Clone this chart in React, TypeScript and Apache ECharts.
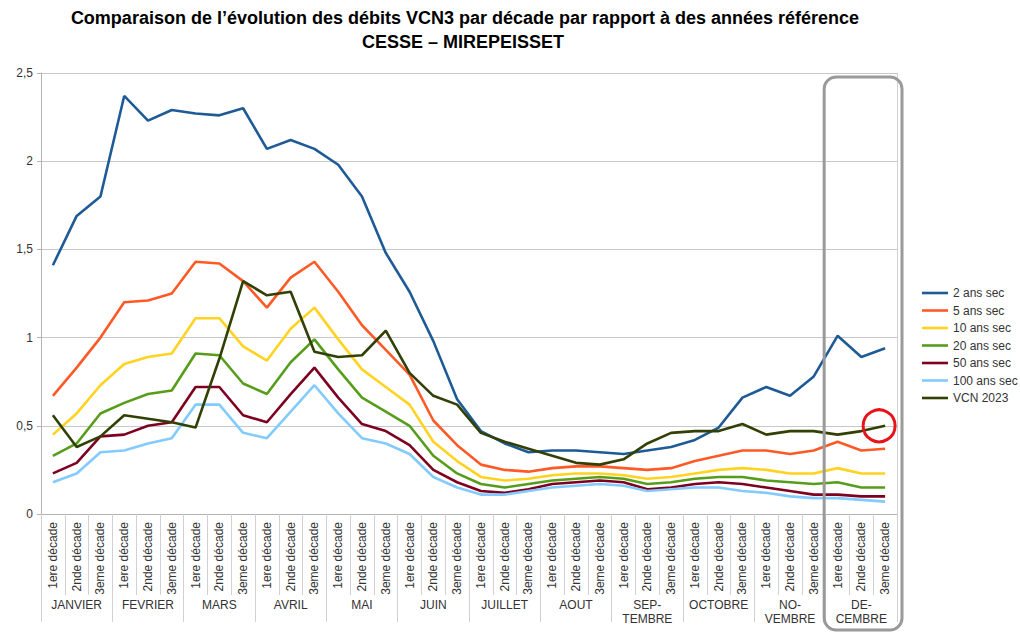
import React, { useEffect, useRef } from "react";
import * as echarts from "echarts";

const months = ["JANVIER", "FEVRIER", "MARS", "AVRIL", "MAI", "JUIN", "JUILLET", "AOUT", "SEP-\nTEMBRE", "OCTOBRE", "NO-\nVEMBRE", "DE-\nCEMBRE"];
const decades = ["1ere décade", "2nde décade", "3eme décade"];
const categories = months.flatMap(() => decades);

const ans2 = [1.41, 1.69, 1.80, 2.37, 2.23, 2.29, 2.27, 2.26, 2.30, 2.07, 2.12, 2.07, 1.98, 1.80, 1.48, 1.26, 0.98, 0.65, 0.47, 0.40, 0.35, 0.36, 0.36, 0.35, 0.34, 0.36, 0.38, 0.42, 0.49, 0.66, 0.72, 0.67, 0.78, 1.01, 0.89, 0.94];
const ans5 = [0.67, 0.83, 1.00, 1.20, 1.21, 1.25, 1.43, 1.42, 1.32, 1.17, 1.34, 1.43, 1.26, 1.07, 0.93, 0.79, 0.53, 0.39, 0.28, 0.25, 0.24, 0.26, 0.27, 0.27, 0.26, 0.25, 0.26, 0.30, 0.33, 0.36, 0.36, 0.34, 0.36, 0.41, 0.36, 0.37];
const ans10 = [0.45, 0.57, 0.73, 0.85, 0.89, 0.91, 1.11, 1.11, 0.95, 0.87, 1.05, 1.17, 0.99, 0.82, 0.72, 0.62, 0.41, 0.30, 0.21, 0.19, 0.20, 0.22, 0.23, 0.23, 0.22, 0.20, 0.21, 0.23, 0.25, 0.26, 0.25, 0.23, 0.23, 0.26, 0.23, 0.23];
const ans20 = [0.33, 0.40, 0.57, 0.63, 0.68, 0.70, 0.91, 0.90, 0.74, 0.68, 0.86, 0.99, 0.82, 0.66, 0.58, 0.50, 0.33, 0.23, 0.17, 0.15, 0.17, 0.19, 0.20, 0.21, 0.20, 0.17, 0.18, 0.20, 0.21, 0.21, 0.19, 0.18, 0.17, 0.18, 0.15, 0.15];
const ans50 = [0.23, 0.29, 0.44, 0.45, 0.50, 0.52, 0.72, 0.72, 0.56, 0.52, 0.68, 0.83, 0.66, 0.51, 0.47, 0.39, 0.25, 0.18, 0.13, 0.12, 0.14, 0.17, 0.18, 0.19, 0.18, 0.14, 0.15, 0.17, 0.18, 0.17, 0.15, 0.13, 0.11, 0.11, 0.10, 0.10];
const ans100 = [0.18, 0.23, 0.35, 0.36, 0.40, 0.43, 0.62, 0.62, 0.46, 0.43, 0.58, 0.73, 0.57, 0.43, 0.40, 0.34, 0.21, 0.15, 0.11, 0.11, 0.13, 0.15, 0.16, 0.17, 0.16, 0.13, 0.14, 0.15, 0.15, 0.13, 0.12, 0.10, 0.09, 0.09, 0.08, 0.07];
const vcn2023 = [0.56, 0.38, 0.44, 0.56, 0.54, 0.52, 0.49, 0.88, 1.32, 1.24, 1.26, 0.92, 0.89, 0.90, 1.04, 0.80, 0.67, 0.62, 0.46, 0.41, 0.37, 0.33, 0.29, 0.28, 0.31, 0.40, 0.46, 0.47, 0.47, 0.51, 0.45, 0.47, 0.47, 0.45, 0.47, 0.50];

const seriesNames = ["2 ans sec", "5 ans sec", "10 ans sec", "20 ans sec", "50 ans sec", "100 ans sec", "VCN 2023"];
const seriesColors = ["#1d5a96", "#ff5a26", "#ffd320", "#579d1c", "#7e0021", "#83caff", "#314004"];
const seriesData = [ans2, ans5, ans10, ans20, ans50, ans100, vcn2023];

const title1 = "Comparaison de l\u2019évolution des débits VCN3 par décade par rapport à des années référence";
const title2 = "CESSE \u2013 MIREPEISSET";

export default function App() {
  const ref = useRef<HTMLDivElement>(null);
  useEffect(() => {
    document.body.style.margin = "0";
    const chart = echarts.init(ref.current!, null, { renderer: "svg" });
    const font = "Liberation Sans, Arial, sans-serif";
    const series: any[] = seriesNames.map((name, i) => ({
      name,
      type: "line",
      data: seriesData[i],
      symbol: "none",
      lineStyle: { width: 2.6, color: seriesColors[i] },
      itemStyle: { color: seriesColors[i] },
      z: i === 6 ? 3 : 2,
    }));
    const last = categories.length - 1;
    series[6].markPoint = {
      silent: true,
      symbol: "circle",
      symbolSize: 32,
      symbolOffset: [-6, 0],
      label: { show: false },
      itemStyle: { color: "rgba(0,0,0,0)", borderColor: "#e8141b", borderWidth: 3 },
      data: [{ coord: [last, vcn2023[last]] }],
    };
    const titles = [
      {
        type: "text",
        x: 465,
        y: 17.5,
        style: { text: title1, textAlign: "center", textVerticalAlign: "middle", font: `bold 18px ${font}`, fill: "#000" },
      },
      {
        type: "text",
        x: 463,
        y: 42,
        style: { text: title2, textAlign: "center", textVerticalAlign: "middle", font: `bold 18px ${font}`, fill: "#000" },
      },
    ];
    chart.setOption({
      animation: false,
      textStyle: { fontFamily: font },
      grid: { left: 41, right: 123, top: 73, bottom: 118, containLabel: false },
      legend: {
        orient: "vertical",
        left: 917,
        top: 282,
        itemWidth: 26,
        itemHeight: 12,
        itemGap: 5.5,
        icon: "path://M0,0 M0,4.7 L26,4.7 L26,7.3 L0,7.3 Z M26,12",
        textStyle: { fontSize: 12, color: "#333", fontFamily: font },
        data: seriesNames,
      },
      xAxis: [
        {
          type: "category",
          data: categories,
          boundaryGap: true,
          axisLine: { show: true, lineStyle: { color: "#b3b3b3" } },
          axisTick: { show: true, interval: 0, length: 81, lineStyle: { color: "#d0d0d0" } },
          axisLabel: { interval: 0, rotate: 90, margin: 8, fontSize: 12, color: "#333", fontFamily: font },
        },
        {
          type: "category",
          data: months,
          position: "bottom",
          boundaryGap: true,
          axisLine: { show: false },
          axisTick: { show: true, interval: 0, length: 108, lineStyle: { color: "#d0d0d0" } },
          axisLabel: { interval: 0, margin: 84, fontSize: 12, lineHeight: 14, color: "#333", fontFamily: font },
        },
      ],
      yAxis: [
        {
          type: "value",
          min: 0,
          max: 2.5,
          interval: 0.5,
          axisLine: { show: true, lineStyle: { color: "#b3b3b3" } },
          axisTick: { show: true, length: 4, lineStyle: { color: "#b3b3b3" } },
          splitLine: { show: true, lineStyle: { color: "#c8c8c8" } },
          axisLabel: {
            margin: 8,
            fontSize: 12,
            color: "#333",
            fontFamily: font,
            formatter: (v: number) => String(v).replace(".", ","),
          },
        },
        {
          type: "value",
          position: "right",
          min: 0,
          max: 2.5,
          interval: 0.5,
          axisLine: { show: true, lineStyle: { color: "#d0d0d0" } },
          axisTick: { show: false },
          axisLabel: { show: false },
          splitLine: { show: false },
        },
      ],
      series,
      graphic: titles,
    });
    // Rounded highlight box around December, positioned from the axis scale
    const p0 = chart.convertToPixel({ xAxisIndex: 0, yAxisIndex: 0 }, [last - 2, 0]) as number[];
    const p1 = chart.convertToPixel({ xAxisIndex: 0, yAxisIndex: 0 }, [last, 0]) as number[];
    const half = (p1[0] - p0[0]) / 4;
    const x0 = p0[0] - half - 1.5;
    const x1 = p1[0] + half + 5;
    chart.setOption({
      graphic: [
        ...titles,
        {
          type: "rect",
          shape: { x: x0, y: 77, width: x1 - x0, height: 553, r: 12 },
          style: { fill: "none", stroke: "#9a9a9a", lineWidth: 3 },
          silent: true,
          z: 10,
        },
      ],
    });
    return () => chart.dispose();
  }, []);
  return <div ref={ref} style={{ position: "absolute", left: 0, top: 0, width: 1020, height: 632 }} />;
}
